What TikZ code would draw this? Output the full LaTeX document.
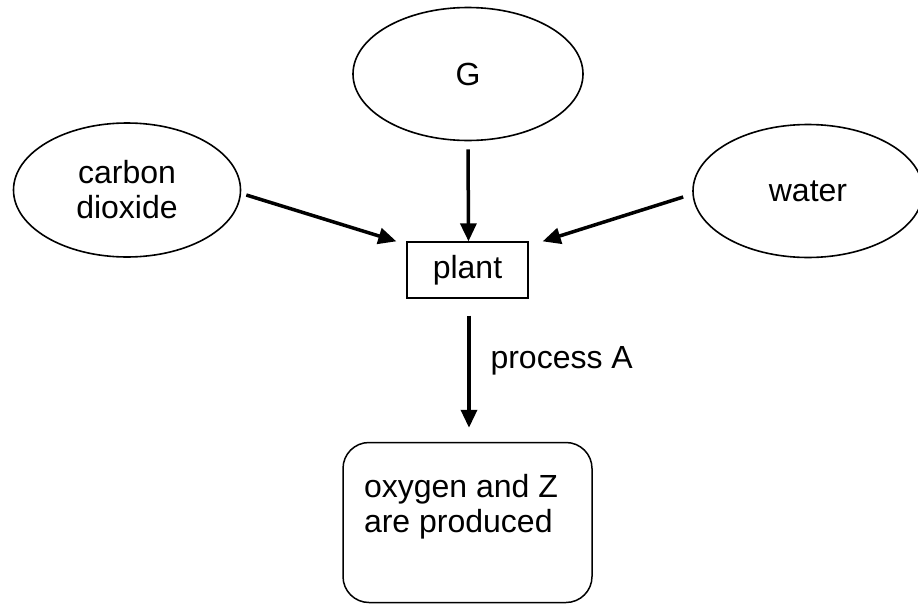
\documentclass[tikz,border=0pt]{standalone}
\usepackage{fontspec}
\setmainfont{Liberation Sans}
\usetikzlibrary{shapes.geometric,arrows.meta}
\begin{document}
\begin{tikzpicture}[x=1pt,y=-1pt,
  every node/.style={font=\fontsize{32}{35}\selectfont},
  oval/.style={ellipse,draw,line width=1.6pt,inner sep=0pt,minimum width=230pt,minimum height=133pt,align=center},
  plantbox/.style={rectangle,draw,line width=1.3pt,minimum width=121pt,minimum height=56pt,inner sep=0pt},
  outbox/.style={rectangle,draw,line width=1.5pt,rounded corners=26pt,minimum width=249pt,minimum height=160pt,inner sep=0pt},
  arr/.style={line width=3.5pt,-{Triangle[length=18pt,width=16pt]}}]
\useasboundingbox (0,0) rectangle (918,605);
\node[oval] (G) at (468,74) {G};
\node[oval,minimum width=227pt,minimum height=134pt] (co2) at (127,190) {carbon\\dioxide};
\node[oval] (water) at (808,191) {water};
\node[plantbox] (plant) at (467.5,270) {plant};
\node[outbox] (out) at (467.5,522.5) {};
\node[align=left] (outtext) at (461,507) {oxygen and Z\\are produced};
\draw[arr,shorten <=8pt] (G.south) -- ([xshift=1pt]plant.north);
\draw[arr] ([shift={(5,5)}]co2.east) -- ([xshift=-10pt]plant.north west);
\draw[arr] ([shift={(-9,6)}]water.west) -- ([xshift=14pt]plant.north east);
\draw[arr,shorten <=17pt,shorten >=14pt] ([xshift=1.5pt]plant.south) -- ([xshift=1.5pt]out.north);
\node[anchor=base west] (procA) at (487,368) {process A};
\end{tikzpicture}
\end{document}
